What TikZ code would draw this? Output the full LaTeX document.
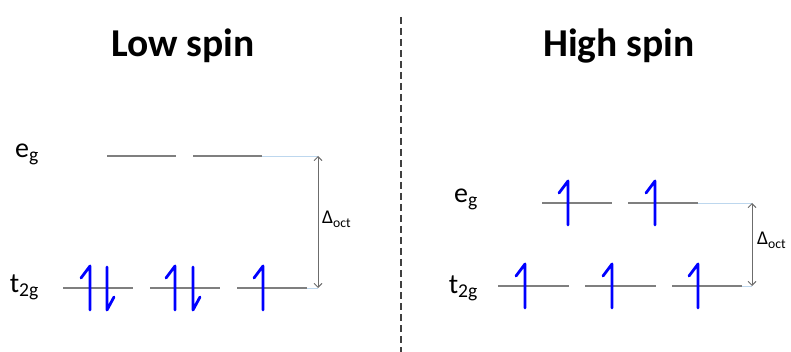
\documentclass[tikz,border=0pt]{standalone}
\usepackage{fontspec}
\setmainfont{Carlito}
\usetikzlibrary{arrows.meta}
\definecolor{lvl}{HTML}{7F7F7F}
\definecolor{ext}{HTML}{BDD7EE}
\definecolor{ebl}{HTML}{0000FF}
\definecolor{dash}{HTML}{404040}
\newcommand\elup[2]{\draw[electron] (#1,#2+22) -- (#1,#2-22) -- ++(-9,12);}
\newcommand\eldown[2]{\draw[electron] (#1,#2-21) -- (#1,#2+22) -- ++(7,-13);}
\begin{document}
\begin{tikzpicture}[x=1pt,y=-1pt,
  title/.style={font=\fontsize{39.5}{42}\selectfont\bfseries, anchor=base, inner sep=0pt},
  lab/.style={font=\fontsize{28}{30}\selectfont, anchor=base east, inner sep=0pt},
  dlab/.style={font=\fontsize{19.5}{21}\selectfont, anchor=base west, inner sep=0pt},
  level/.style={draw=lvl, line width=1.5pt},
  extline/.style={draw=ext, line width=0.9pt},
  gap/.style={draw=lvl!85!black, line width=0.9pt, {Straight Barb[length=4pt,width=8pt]}-{Straight Barb[length=4pt,width=8pt]}},
  electron/.style={draw=ebl, line width=2.8pt, line cap=round, line join=round},
  divider/.style={draw=dash, line width=1.6pt, dash pattern=on 7pt off 4pt}]
\useasboundingbox (0,0) rectangle (791,352);
% divider
\coordinate (dtop) at (401,17);
\coordinate (dbot) at (401,352);
\draw[divider] (dtop) -- (dbot);
% titles
\node[title] (lowtitle) at (183,57) {Low spin};
\node[title] (hightitle) at (619,57) {High spin};
% ---- low spin ----
\node[lab] (Leglab) at (39,158) {e\textsubscript{g}};
\node[lab] (Ltlab) at (39,292) {t\textsubscript{2g}};
\draw[level] (107,156) -- (176,156);
\draw[level] (193,156) -- (262,156) coordinate (Legend);
\coordinate (Legarr) at (318,156);
\draw[extline] (Legend) -- (Legarr);
\draw[level] (63,288) -- (133,288);
\draw[level] (150,288) -- (220,288);
\draw[level] (237,288) -- (307,288) coordinate (Ltend);
\coordinate (Ltarr) at (318,288);
\draw[extline] (Ltend) -- (Ltarr);
\draw[gap] (Legarr) -- (Ltarr);
\node[dlab] (Ldelta) at (322,224) {Δ\textsubscript{oct}};
\elup{90}{288}
\eldown{107}{288}
\elup{175}{288}
\eldown{193}{288}
\elup{263}{288}
% ---- high spin ----
\node[lab] (Heglab) at (478,203) {e\textsubscript{g}};
\node[lab] (Htlab) at (478,293) {t\textsubscript{2g}};
\draw[level] (542,203) -- (612,203);
\draw[level] (628,203) -- (698,203) coordinate (Hegend);
\coordinate (Hegarr) at (752,203);
\draw[extline] (Hegend) -- (Hegarr);
\draw[level] (498,286) -- (569,286);
\draw[level] (585,286) -- (656,286);
\draw[level] (672,286) -- (742,286) coordinate (Htend);
\coordinate (Htarr) at (752,286);
\draw[extline] (Htend) -- (Htarr);
\draw[gap] (Hegarr) -- (Htarr);
\node[dlab] (Hdelta) at (757,245) {Δ\textsubscript{oct}};
\elup{568}{203}
\elup{655}{203}
\elup{525}{286}
\elup{612}{286}
\elup{698}{286}
\end{tikzpicture}
\end{document}
